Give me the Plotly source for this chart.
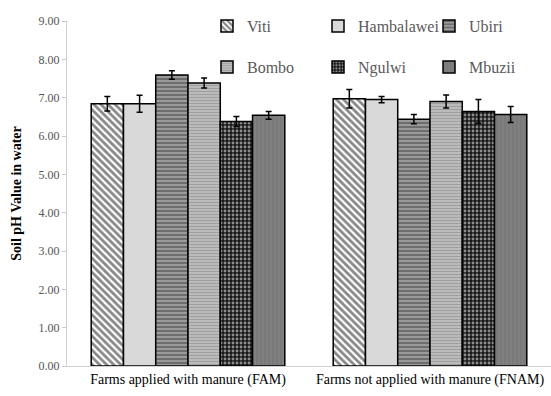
import plotly.graph_objects as go

categories = ["Farms applied with manure (FAM)", "Farms not applied with manure (FNAM)"]
series_names = ["Viti", "Hambalawei", "Ubiri", "Bombo", "Ngulwi", "Mbuzii"]
viti = [6.84, 6.97]
hambalawei = [6.84, 6.95]
ubiri = [7.59, 6.44]
bombo = [7.38, 6.90]
ngulwi = [6.38, 6.64]
mbuzii = [6.54, 6.56]
viti_err = [0.19, 0.24]
hambalawei_err = [0.22, 0.08]
ubiri_err = [0.11, 0.12]
bombo_err = [0.13, 0.17]
ngulwi_err = [0.13, 0.31]
mbuzii_err = [0.10, 0.21]
y_ticks = [0, 1, 2, 3, 4, 5, 6, 7, 8, 9]

values = [viti, hambalawei, ubiri, bombo, ngulwi, mbuzii]
errors = [viti_err, hambalawei_err, ubiri_err, bombo_err, ngulwi_err, mbuzii_err]

styles = [
    dict(color="white", pattern=dict(shape="\\", fgcolor="#111111", bgcolor="white", size=5, solidity=0.55)),
    dict(color="#d9d9d9"),
    dict(color="#8c8c8c", pattern=dict(shape="-", fgcolor="#3f3f3f", bgcolor="#9a9a9a", size=4, solidity=0.5)),
    dict(color="#bdbdbd", pattern=dict(shape="-", fgcolor="#7a7a7a", bgcolor="#c4c4c4", size=3, solidity=0.5)),
    dict(color="#1a1a1a", pattern=dict(shape=".", fgcolor="white", bgcolor="#1a1a1a", size=4, solidity=0.4)),
    dict(color="#7a7a7a", pattern=dict(shape="|", fgcolor="#6a6a6a", bgcolor="#808080", size=4, solidity=0.3)),
]

fig = go.Figure()
for i, (name, vals, errs, st) in enumerate(zip(series_names, values, errors, styles)):
    marker = dict(color=st["color"], line=dict(color="black", width=1.5))
    if "pattern" in st:
        marker["pattern"] = st["pattern"]
    fig.add_trace(go.Bar(
        name=name, x=categories, y=vals,
        error_y=dict(type="data", array=errs, color="black", thickness=1.5, width=3),
        marker=marker,
        legend="legend" if i < 3 else "legend2",
    ))

legend_common = dict(
    orientation="h", entrywidth=66, entrywidthmode="pixels",
    font=dict(family="Liberation Serif, Times New Roman, serif", size=16, color="#595959"),
    bgcolor="rgba(0,0,0,0)", xanchor="left", yanchor="middle",
    itemwidth=30,
)
fig.update_layout(
    width=551, height=396,
    margin=dict(l=67, r=0, t=21, b=30),
    paper_bgcolor="white", plot_bgcolor="white",
    barmode="group", bargap=0.2, bargroupgap=0,
    font=dict(family="Liberation Serif, Times New Roman, serif", color="black"),
    legend=dict(x=(207 - 67) / 484, y=(366 - 26) / 345, **legend_common),
    legend2=dict(x=(207 - 67) / 484, y=(366 - 67) / 345, **legend_common),
    yaxis=dict(
        range=[0, 9], tickvals=y_ticks, tickformat=".2f",
        showgrid=False, showline=True, linecolor="#d0d0d0", linewidth=1,
        ticks="outside", ticklen=4, tickcolor="#c8c8c8",
        tickfont=dict(family="Liberation Serif, Times New Roman, serif", size=12, color="#555555"),
        title=dict(text="<b>Soil pH Value in water</b>", font=dict(family="Liberation Serif, Times New Roman, serif", size=14, color="black"), standoff=13),
        zeroline=False, automargin=False,
    ),
    xaxis=dict(
        showline=True, linecolor="#d0d0d0", linewidth=1,
        tickfont=dict(family="Liberation Serif, Times New Roman, serif", size=14, color="black"),
        ticks="", showgrid=False, automargin=False,
    ),
)
fig.write_html(
    "out.html",
    config={"displayModeBar": False},
    post_script="document.body.style.margin='0';document.body.style.overflow='hidden';",
)
